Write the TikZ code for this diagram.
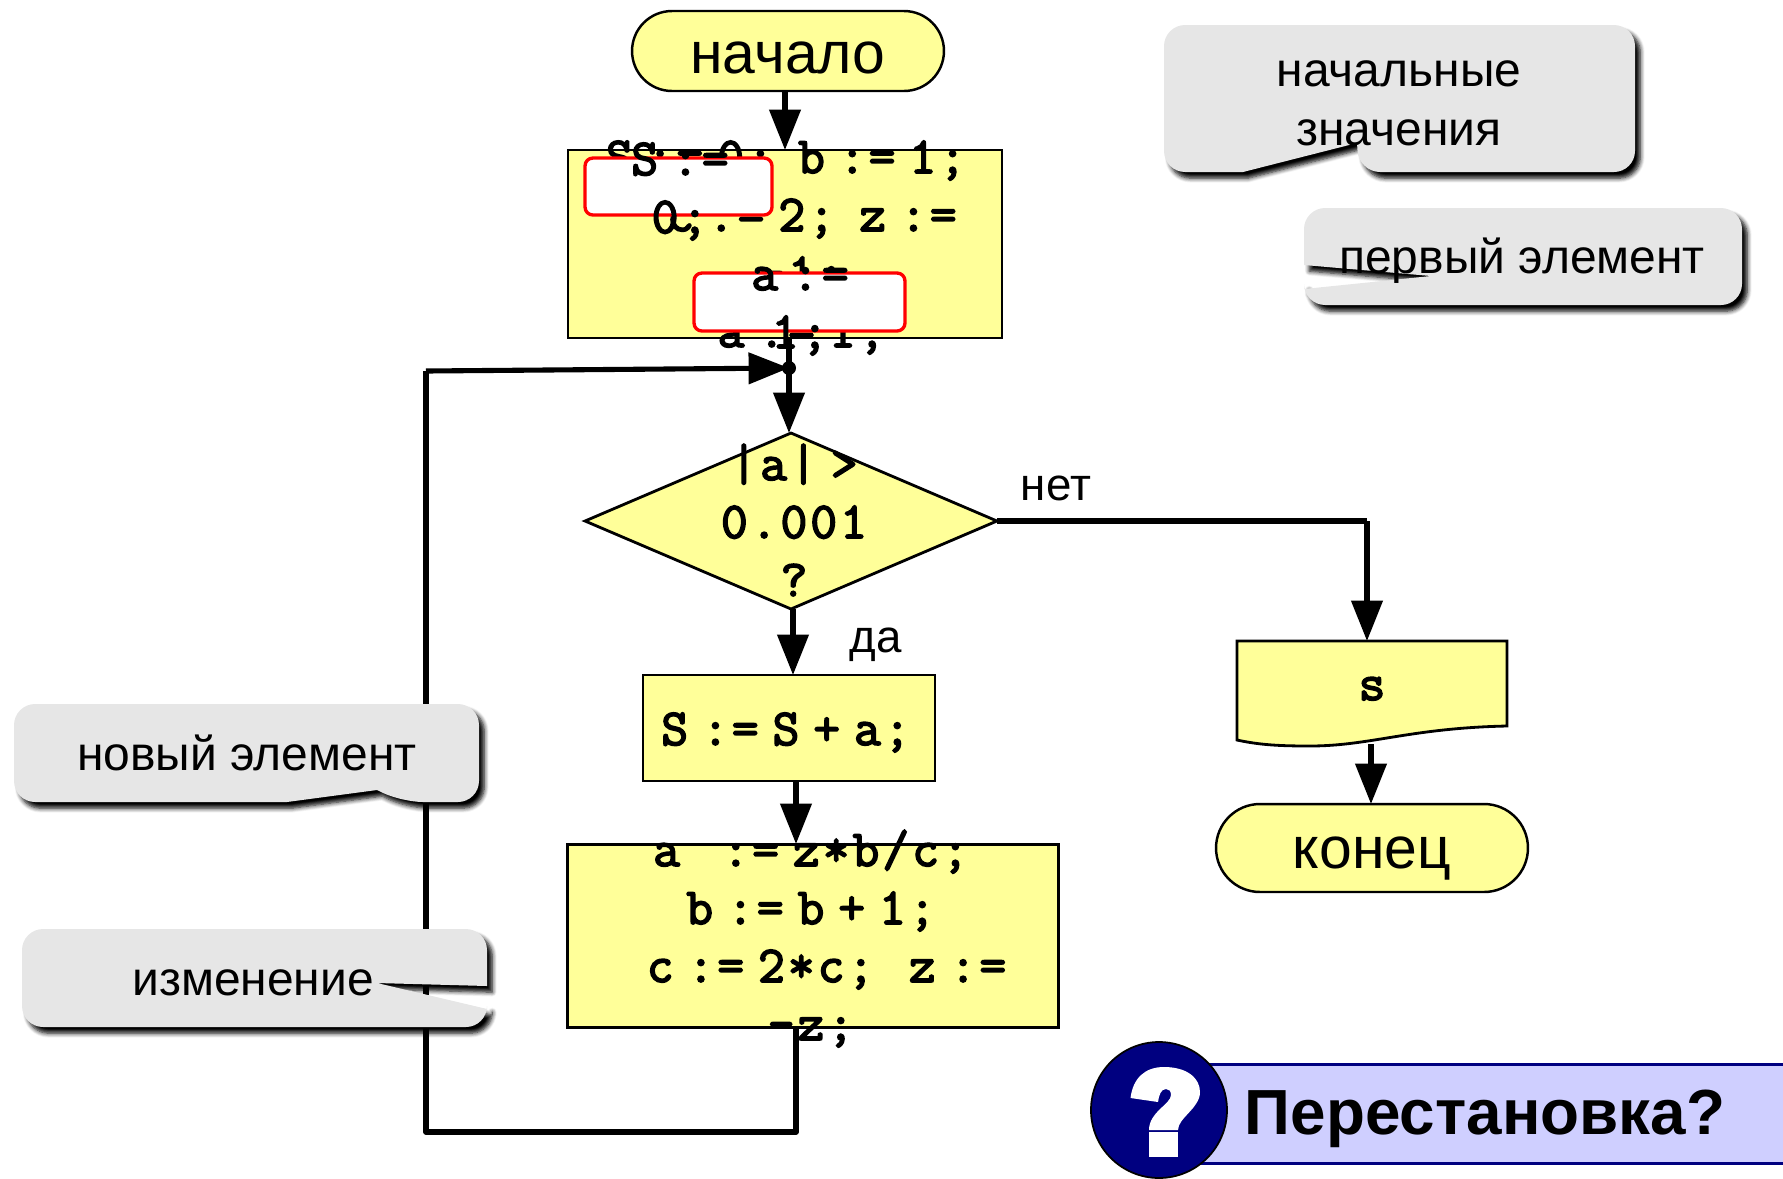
\documentclass[tikz,border=0pt]{standalone}
\usepackage{fontspec}
\setmainfont{Liberation Sans}
\newfontfamily\codeface[LetterSpace=6,FakeBold=3.2]{Latin Modern Mono}
\usetikzlibrary{arrows.meta,shapes.geometric,shapes.misc,shadows.blur}

\definecolor{boxyellow}{HTML}{FFFF99}
\definecolor{noteface}{HTML}{E6E6E6}
\definecolor{ribbonface}{HTML}{CFCFFF}
\definecolor{ribbonline}{HTML}{000080}

% one pixel of the page is 0.02cm, so 1.758 pixels make one point
\newcommand\codefont{\codeface\fontsize{29.5}{33}\selectfont\spaceskip=8pt\relax}

\tikzset{
  flow/.style={line width=2.9pt,-{Triangle[length=23pt,width=17.5pt]}},
  plainflow/.style={line width=2.9pt,line join=round},
  stepbox/.style={draw,line width=1.6pt,fill=boxyellow,rectangle,outer sep=0pt,inner sep=0pt},
  terminal/.style={draw,line width=1.4pt,fill=boxyellow,rounded rectangle,outer sep=0pt,
    inner sep=0pt,text height=26pt,text depth=0pt,font=\fontsize{33.5}{36}\selectfont},
  test/.style={draw,line width=1.6pt,fill=boxyellow,diamond,outer sep=0pt,inner sep=0pt},
  code/.style={anchor=base,align=center,inner sep=0pt,font=\codefont},
  redbox/.style={draw=red,line width=1.9pt,fill=white,rectangle,rounded corners=4.5pt,inner sep=0pt},
  note/.style={fill=noteface,rounded corners=12pt,
    blur shadow={shadow xshift=3pt,shadow yshift=-3.5pt,shadow blur radius=2.5pt,
      shadow blur steps=6,shadow opacity=100}},
  notetext/.style={anchor=base,align=center,inner sep=0pt,
    font=\fontsize{27.3}{33.4}\selectfont},
  branch/.style={anchor=base,inner sep=0pt,font=\fontsize{26}{30}\selectfont},
}

\begin{document}
\begin{tikzpicture}[x=0.02cm,y=-0.02cm]
\useasboundingbox (0,0) rectangle (1783,1178);

% the loop runs behind the grey notes
\node[stepbox,minimum width=8.68cm,minimum height=3.76cm] (init) at (785,244) {};
\node[test,minimum width=8.24cm,minimum height=3.52cm] (cond) at (791,521) {};
\node[stepbox,minimum width=5.84cm,minimum height=2.12cm] (addterm) at (789,728) {};
\node[stepbox,minimum width=9.82cm,minimum height=3.66cm] (update) at (813,936) {};
\node[terminal,minimum width=6.24cm,minimum height=1.6cm] (start) at (788,51) {начало};
\node[terminal,minimum width=6.24cm,minimum height=1.76cm,text height=23pt] (stop) at (1372,848) {конец};
\coordinate (join) at (789,368);
\coordinate (corner) at (796,1132);
\coordinate (back) at (426,1132);
\coordinate (backup) at (426,371);
\coordinate (turn) at (1367,521);

% the output block
\coordinate (outtop) at (1367,641);
\coordinate (outbot) at (1371,744);
\filldraw[line width=1.6pt,fill=boxyellow] (1237,641) -- (1507,641) -- (1507,726)
  .. controls (1410,728) and (1370,746) .. (1310,746)
  .. controls (1280,746) and (1260,745) .. (1237,740) -- cycle;
\node[code] (outval) at (1372,700) {s};

% first block
\node[code] (inittext) at (786,347) {S := 0;\hspace{.2em} b := 1;\\
  \hspace*{1em}c := 2;\hspace{.2em} z :=\\ \hspace*{.6em}-1;\\ \hspace*{.6em}a := 1;};
\node[redbox,minimum width=3.74cm,minimum height=1.14cm] (redone) at (678.5,186.5) {};
\node[redbox,minimum width=4.22cm,minimum height=1.16cm] (redtwo) at (799.5,302) {};
\node[code] (redonetext) at (680,233) {S :=\\ 0;};
\node[code] (redtwotext) at (800,348) {a :=\\ 1;};

% other blocks
\node[code] (condtext) at (794,596) {|a| >\\ 0.001\\ ?};
\node[code] (addtext) at (786,745) {S := S + a;};
\node[code] (updatetext) at (811,1040) {a\hspace{.55em} := z*b/c;\\ b := b + 1;\\
  \hspace*{.6em}c := 2*c;\hspace{.4em} z :=\\ -z;};

\draw[flow] (init.north |- start.south) -- (init.north);
\draw[line width=2.9pt] (join |- init.south) -- (join);
\draw[flow] (join) -- (cond.north -| join);
\fill (join) circle (7);
\draw[plainflow] (corner |- update.south) -- (corner) -- (back) -- (backup);
\draw[flow] (backup) -- (join);
\draw[flow] (cond.south -| addterm.north) ++(4,0) -- ++(0,66);
\draw[flow] (796,781) -- (796,844);
\draw[plainflow] (cond.east) -- (turn);
\draw[flow] (turn) -- (outtop);
\draw[flow] (outbot) -- (stop.north -| outbot);

\node[branch] (no) at (1056,500) {нет};
\node[branch] (yes) at (876,652) {да};

% grey notes
\path[note] (1400,25) -- (1635,25) -- (1635,172) -- (1359,172) [sharp corners] -- (1357,143)
  -- (1243,172) [rounded corners=12pt] -- (1164,172) -- (1164,25) -- cycle;
\node[notetext] (notestart) at (1399,145) {начальные\\ значения};
\path[note] (1500,208) -- (1742,208) -- (1742,305) -- (1304,305) [sharp corners] -- (1304,289)
  -- (1431,276) -- (1304,265) [rounded corners=12pt] -- (1304,208) -- cycle;
\node[notetext] (notefirst) at (1522,273) {первый элемент};
\path[note] (250,704) -- (479,704) -- (479,802) -- (402,802) [sharp corners] -- (377,790)
  -- (287,802) [rounded corners=12pt] -- (14,802) -- (14,704) -- cycle;
\node[notetext] (notenew) at (247,770) {новый элемент};
\path[note] (250,929) -- (487,929) [sharp corners] -- (487,986) -- (377,983)
  -- (487,1009) [rounded corners=12pt] -- (487,1027) -- (22,1027) -- (22,929) -- cycle;
\node[notetext] (notechange) at (253,995) {изменение};

% question ribbon
\node[draw=ribbonline,line width=1.7pt,fill=ribbonface,rectangle,minimum width=12cm,
  minimum height=1.98cm,inner sep=0pt,anchor=west] (ribbon) at (1190,1113.5) {};
\node[draw=black,line width=1pt,fill=ribbonline,circle,minimum size=2.72cm,inner sep=0pt] (badge) at (1159,1110) {};
\node[anchor=base,inner sep=0pt,font=\fontsize{36.3}{40}\selectfont\bfseries] (asktext) at (1485,1134) {Перестановка?};
\fill[white] (1130.5,1098) .. controls (1133,1078) and (1145,1067) .. (1164,1067)
  .. controls (1187,1067) and (1200,1078) .. (1200,1092)
  .. controls (1200,1108) and (1178,1118) .. (1178,1130) -- (1149,1130)
  .. controls (1149,1112) and (1171,1104) .. (1171,1095)
  .. controls (1171,1091) and (1169,1089) .. (1166,1089)
  .. controls (1161,1089) and (1159,1095) .. (1158,1102) -- cycle;
\fill[white] (1149,1132) rectangle (1178,1157);

\end{tikzpicture}
\end{document}
